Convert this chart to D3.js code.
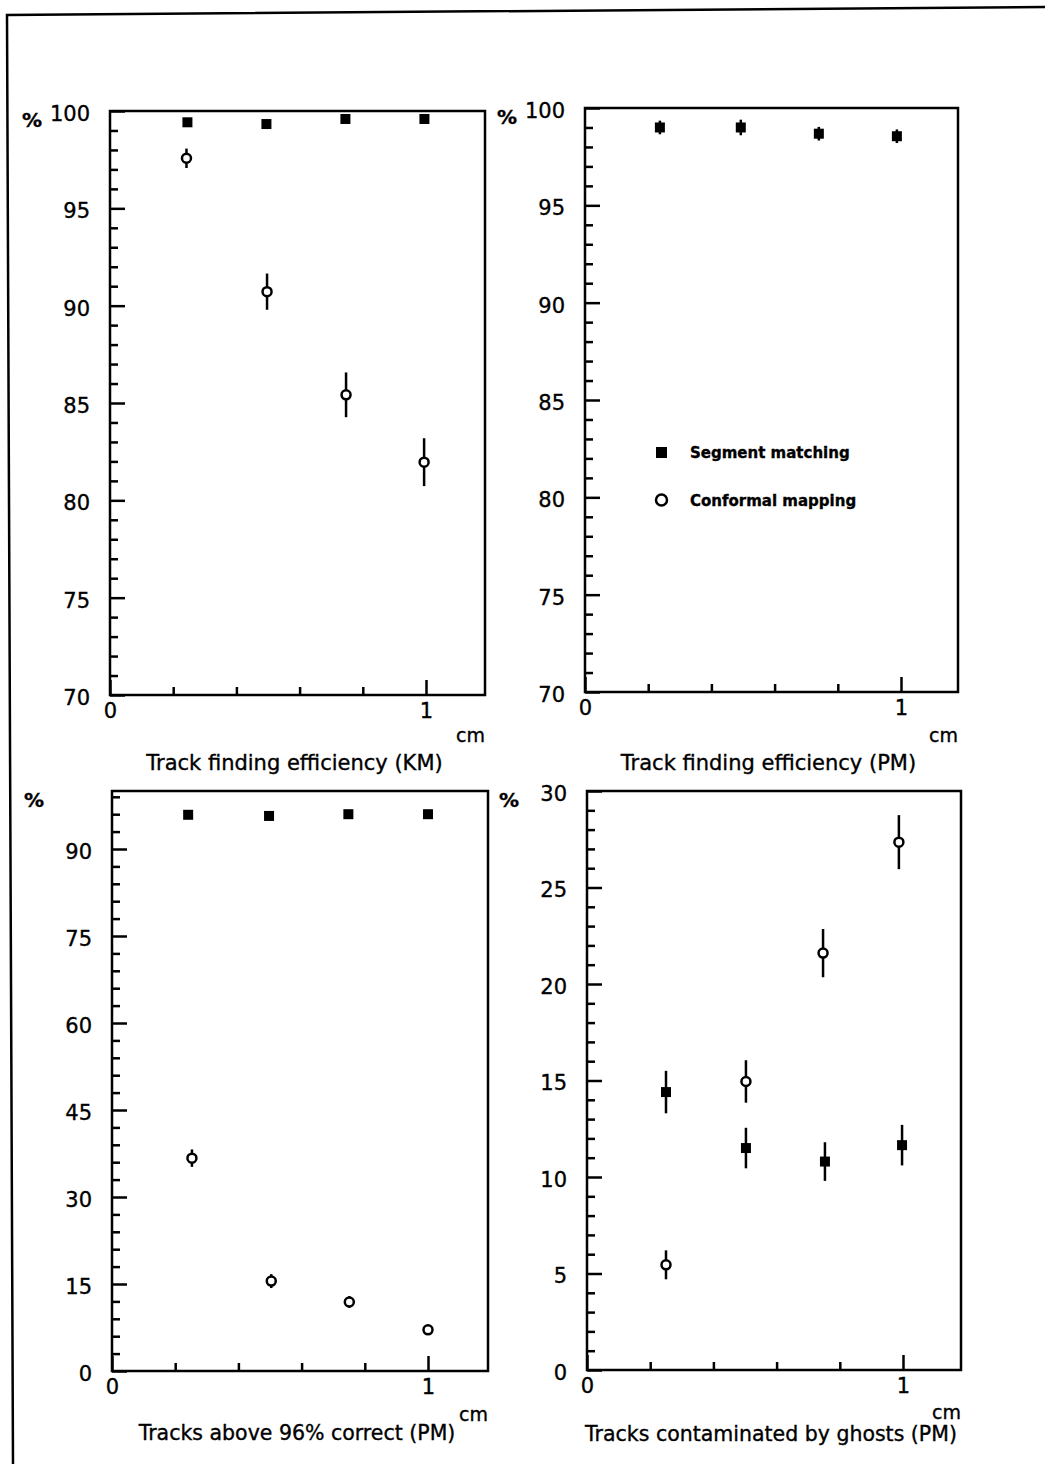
<!DOCTYPE html>
<html>
<head>
<meta charset="utf-8">
<script src="https://cdn.jsdelivr.net/npm/d3@7"></script>
<style>
  html, body { margin: 0; padding: 0; background: #fff; }
  svg { display: block; }
  text { font-family: "DejaVu Sans", sans-serif; fill: #000; stroke: #000; stroke-width: 0.35px; }
</style>
</head>
<body>
<script>
// ---- data (x in cm, y in %) ----
const kmSegX   = [0.245, 0.495, 0.745, 0.995];
const kmSegY   = [99.42, 99.33, 99.59, 99.59];
const kmSegE   = [0.12, 0.12, 0.12, 0.12];
const kmConfX  = [0.242, 0.497, 0.747, 0.994];
const kmConfY  = [97.57, 90.72, 85.42, 81.96];
const kmConfE  = [0.50, 0.93, 1.15, 1.23];

const pmSegX   = [0.237, 0.493, 0.740, 0.987];
const pmSegY   = [99.00, 99.00, 98.68, 98.55];
const pmSegE   = [0.35, 0.40, 0.35, 0.35];

const corrSegX  = [0.241, 0.497, 0.748, 1.000];
const corrSegY  = [95.9, 95.7, 96.0, 96.0];
const corrSegE  = [0.3, 0.3, 0.3, 0.3];
const corrConfX = [0.253, 0.504, 0.751, 1.000];
const corrConfY = [36.7, 15.5, 11.9, 7.1];
const corrConfE = [1.5, 1.2, 1.0, 0.7];

const ghostSegX  = [0.250, 0.503, 0.753, 0.997];
const ghostSegY  = [14.4, 11.5, 10.8, 11.65];
const ghostSegE  = [1.1, 1.05, 1.0, 1.05];
const ghostConfX = [0.250, 0.503, 0.747, 0.987];
const ghostConfY = [5.45, 14.95, 21.6, 27.35];
const ghostConfE = [0.75, 1.1, 1.25, 1.4];

const xMajorTicks = [0, 1];
const xMinorTicks = [0.2, 0.4, 0.6, 0.8];
const legendLabels = ["Segment matching", "Conformal mapping"];

const mk = (xs, ys, es) => xs.map((x, i) => ({x, y: ys[i], e: es[i]}));

const panels = [
  { left: 110, top: 111, right: 485, bottom: 695, yDomain: [70, 100], yMajor: 5, yMinor: 1,
    title: "Track finding efficiency (KM)", titleDy: 75, cmDy: 47, titleFs: 21,
    seg: mk(kmSegX, kmSegY, kmSegE), conf: mk(kmConfX, kmConfY, kmConfE) },
  { left: 585, top: 108, right: 958, bottom: 692, yDomain: [70, 100], yMajor: 5, yMinor: 1,
    title: "Track finding efficiency (PM)", titleDy: 78, cmDy: 50, titleFs: 21,
    seg: mk(pmSegX, pmSegY, pmSegE), conf: [], legend: true },
  { left: 112, top: 791, right: 488, bottom: 1371, yDomain: [0, 100], yMajor: 15, yMinor: 3, yMaxLabel: 90,
    title: "Tracks above 96% correct (PM)", titleDy: 69, cmDy: 50, titleFs: 20.5,
    seg: mk(corrSegX, corrSegY, corrSegE), conf: mk(corrConfX, corrConfY, corrConfE) },
  { left: 587, top: 791, right: 961, bottom: 1370, yDomain: [0, 30], yMajor: 5, yMinor: 1,
    title: "Tracks contaminated by ghosts (PM)", titleDy: 71, cmDy: 49, titleFs: 20.5,
    seg: mk(ghostSegX, ghostSegY, ghostSegE), conf: mk(ghostConfX, ghostConfY, ghostConfE) }
];

const W = 1045, H = 1464;
const svg = d3.select("body").append("svg").attr("width", W).attr("height", H);

// page frame of the scanned sheet (slightly skewed)
svg.append("path")
  .attr("d", "M1045,7 L7,15 L13,1464")
  .attr("fill", "none").attr("stroke", "#000").attr("stroke-width", 2.5);

const LW = 2.5;
const FS = 21;

panels.forEach(p => {
  const xMax = (p.right - p.left) / 316;   // 316 px per cm
  const x = d3.scaleLinear().domain([0, xMax]).range([p.left, p.right]);
  const y = d3.scaleLinear().domain(p.yDomain).range([p.bottom, p.top]);
  const g = svg.append("g");

  const yMaj = d3.range(p.yDomain[0], p.yDomain[1] + 1e-9, p.yMajor);
  const yMin = d3.range(p.yDomain[0], p.yDomain[1] + 1e-9, p.yMinor).filter(v => !yMaj.some(m => Math.abs(m - v) < 1e-9));
  const yLabels = p.yMaxLabel !== undefined ? yMaj.filter(v => v <= p.yMaxLabel) : yMaj;

  // y axis: minor ticks, major ticks with labels (ticks point inward)
  const yMinorAxis = g.append("g").attr("transform", `translate(${p.left},0)`)
    .call(d3.axisLeft(y).tickValues(yMin).tickSize(-8).tickSizeOuter(0).tickFormat(""));
  const yMajorAxis = g.append("g").attr("transform", `translate(${p.left},0)`)
    .call(d3.axisLeft(y).tickValues(yMaj).tickSize(-15).tickSizeOuter(0).tickPadding(20)
      .tickFormat(v => yLabels.includes(v) ? d3.format("d")(v) : ""));

  // x axis
  const xMinorAxis = g.append("g").attr("transform", `translate(0,${p.bottom})`)
    .call(d3.axisBottom(x).tickValues(xMinorTicks).tickSize(-8).tickSizeOuter(0).tickFormat(""));
  const xMajorAxis = g.append("g").attr("transform", `translate(0,${p.bottom})`)
    .call(d3.axisBottom(x).tickValues(xMajorTicks).tickSize(-15).tickSizeOuter(0).tickPadding(8)
      .tickFormat(d3.format("d")));

  [yMinorAxis, yMajorAxis, xMinorAxis, xMajorAxis].forEach(a => {
    a.select(".domain").remove();
    a.selectAll("line").attr("stroke", "#000").attr("stroke-width", LW);
    a.selectAll("text").attr("font-size", FS).attr("font-family", "DejaVu Sans, sans-serif").attr("fill", "#000");
  });
  yMajorAxis.selectAll("text").attr("dy", "0.45em");

  // frame
  g.append("rect")
    .attr("x", p.left).attr("y", p.top)
    .attr("width", p.right - p.left).attr("height", p.bottom - p.top)
    .attr("fill", "none").attr("stroke", "#000").attr("stroke-width", LW);

  // unit labels
  g.append("text").attr("x", p.left - 88).attr("y", p.top + 16)
    .attr("font-size", 20).attr("font-weight", "bold").text("%");
  g.append("text").attr("x", p.right).attr("y", p.bottom + p.cmDy)
    .attr("text-anchor", "end").attr("font-size", 19).text("cm");
  g.append("text").attr("x", (p.left + p.right) / 2 - 3).attr("y", p.bottom + p.titleDy)
    .attr("text-anchor", "middle").attr("font-size", p.titleFs).text(p.title);

  // error bars
  const bars = p.seg.concat(p.conf);
  g.selectAll("line.err").data(bars).join("line").attr("class", "err")
    .attr("x1", d => x(d.x)).attr("x2", d => x(d.x))
    .attr("y1", d => y(d.y - d.e)).attr("y2", d => y(d.y + d.e))
    .attr("stroke", "#000").attr("stroke-width", LW);

  // segment matching: filled squares
  g.selectAll("rect.seg").data(p.seg).join("rect").attr("class", "seg")
    .attr("x", d => x(d.x) - 5).attr("y", d => y(d.y) - 5)
    .attr("width", 10).attr("height", 10).attr("fill", "#000");

  // conformal mapping: open circles
  g.selectAll("circle.conf").data(p.conf).join("circle").attr("class", "conf")
    .attr("cx", d => x(d.x)).attr("cy", d => y(d.y)).attr("r", 4.5)
    .attr("fill", "#fff").attr("stroke", "#000").attr("stroke-width", 2.5);

  if (p.legend) {
    const lg = g.append("g");
    lg.append("rect").attr("x", 656).attr("y", 447).attr("width", 11).attr("height", 11).attr("fill", "#000");
    lg.append("circle").attr("cx", 661.5).attr("cy", 500).attr("r", 5.5)
      .attr("fill", "#fff").attr("stroke", "#000").attr("stroke-width", 2.5);
    lg.selectAll("text.leg").data(legendLabels).join("text").attr("class", "leg")
      .attr("x", 690).attr("y", (d, i) => 458 + i * 48)
      .attr("font-size", 15).attr("font-weight", "bold").text(d => d);
  }
});
</script>
</body>
</html>
